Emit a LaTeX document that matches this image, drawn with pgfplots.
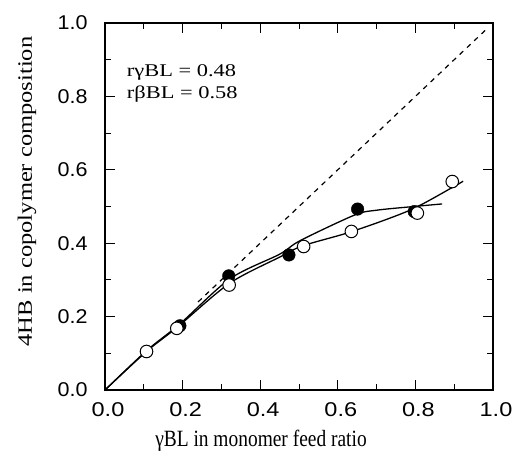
\documentclass[border=0pt]{standalone}
\usepackage{pgfplots}
\pgfplotsset{compat=1.18}
\usepackage{fontspec}
\usepackage{graphicx}
\setmainfont{Liberation Serif}
\newfontfamily\tickfont{Liberation Sans}

\begin{document}
\begin{tikzpicture}
  \useasboundingbox (-105bp,-72bp) rectangle (411bp,390bp);
  \begin{axis}[
      at={(0,0)}, anchor=south west,
      scale only axis,
      width=388bp, height=367bp,
      xmin=0, xmax=1, ymin=0, ymax=1,
      xtick={0,0.2,0.4,0.6,0.8,1.0},
      ytick={0,0.2,0.4,0.6,0.8,1.0},
      xticklabels={\scalebox{1.18}[1]{0.0},\scalebox{1.18}[1]{0.2},\scalebox{1.18}[1]{0.4},
                   \scalebox{1.18}[1]{0.6},\scalebox{1.18}[1]{0.8},\scalebox{1.18}[1]{1.0}},
      yticklabels={\scalebox{1.08}[1]{0.0},\scalebox{1.08}[1]{0.2},\scalebox{1.08}[1]{0.4},
                   \scalebox{1.08}[1]{0.6},\scalebox{1.08}[1]{0.8},\scalebox{1.08}[1]{1.0}},
      minor tick num=1,
      major tick length=10bp, minor tick length=6bp,
      every tick/.style={black, line width=1bp},
      axis line style={line width=1.5bp},
      tick label style={font=\tickfont\fontsize{20}{24}\selectfont},
      xticklabel style={yshift=-9bp, xshift=3bp},
      yticklabel style={xshift=-14bp},
      xlabel={\scalebox{1}[1.2]{\fontsize{19.5}{22}\selectfont γBL in monomer feed ratio}},
      ylabel={\scalebox{1.2}[1]{\fontsize{20.5}{22}\selectfont 4HB in copolymer composition}},
      xlabel style={at={(axis description cs:0.402,-0.138)}, anchor=center},
      ylabel style={at={(axis description cs:-0.201,0.541)}, anchor=center},
      clip=false
  ]
      % diagonal y = x (hidden under the curves near the origin)
      \addplot[black, line width=1.2bp, dash pattern=on 5bp off 5bp] coordinates {(0.24,0.24) (0.98,0.98)};

      % fitted curve through the filled points
      \addplot[black, line width=1.3bp, smooth] coordinates {
        (0,0) (0.107,0.107) (0.193,0.18) (0.322,0.303) (0.45,0.37) (0.503,0.407)
        (0.644,0.477) (0.701,0.490) (0.786,0.499) (0.869,0.507)};
      % fitted curve through the open points
      \addplot[black, line width=1.3bp, smooth] coordinates {
        (0,0) (0.107,0.105) (0.185,0.17) (0.32,0.29) (0.45,0.362)
        (0.51,0.393) (0.637,0.432) (0.786,0.49) (0.897,0.553) (0.923,0.569)};

      % filled points
      \addplot[only marks, mark=*, mark size=6.3bp, black] coordinates {
        (0.193,0.175) (0.319,0.311) (0.474,0.368) (0.651,0.493) (0.797,0.486)};
      % open points
      \addplot[only marks, mark=*, mark size=6.3bp, mark options={fill=white, draw=black, line width=1bp}] coordinates {
        (0.107,0.105) (0.185,0.168) (0.32,0.286) (0.512,0.391) (0.635,0.432)
        (0.805,0.482) (0.895,0.568)};

      \node[anchor=west, inner sep=0pt] at (axis cs:0.056,0.864) {\scalebox{1.25}[1]{\fontsize{18}{20}\selectfont rγBL = 0.48}};
      \node[anchor=west, inner sep=0pt] at (axis cs:0.056,0.807) {\scalebox{1.25}[1]{\fontsize{18}{20}\selectfont rβBL = 0.58}};
  \end{axis}
\end{tikzpicture}
\end{document}
